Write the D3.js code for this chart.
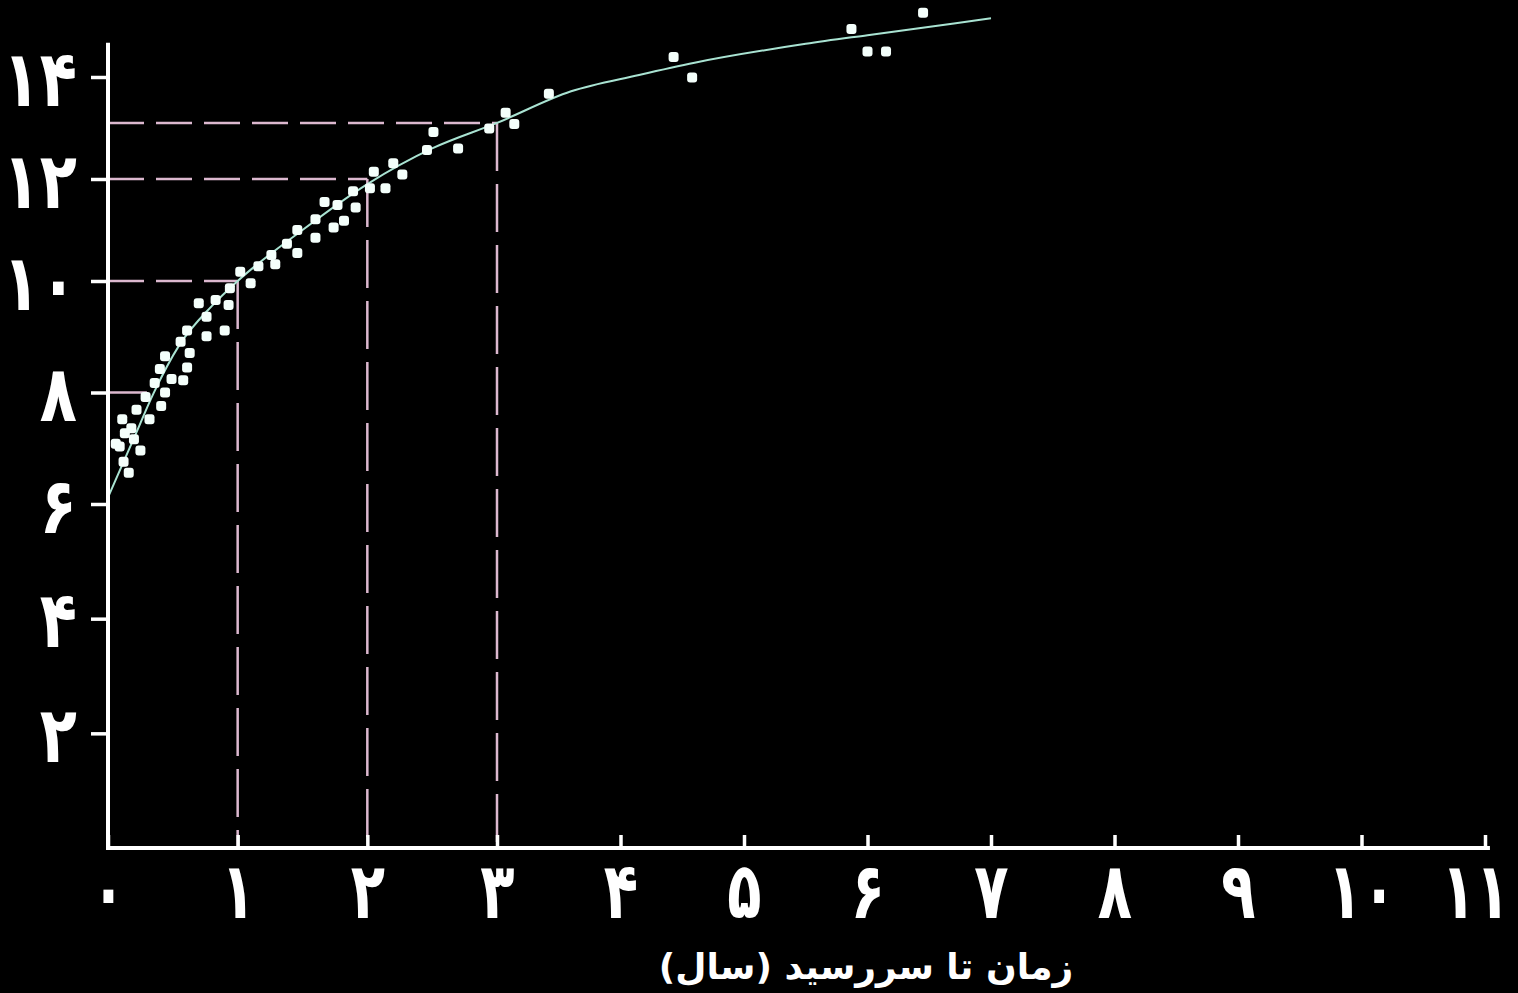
<!DOCTYPE html>
<html>
<head>
<meta charset="utf-8">
<script src="https://cdn.jsdelivr.net/npm/d3@7"></script>
<style>
  body { margin: 0; background: #000; }
  svg { display: block; }
</style>
</head>
<body>
<svg id="chart"></svg>
<script>
// data
const pointX = [0.94, 1.10, 0.70, 0.83, 0.93, 0.76, 0.61, 0.76, 0.90, 0.56, 0.63, 0.44, 0.61, 0.40, 0.49, 0.58,
  0.36, 0.44, 0.29, 0.41, 0.22, 0.32, 0.11, 0.18, 0.13, 0.20, 0.25, 0.09, 0.12, 0.16, 0.06,
  2.46, 2.20, 2.05, 2.27, 2.02, 1.89, 2.14, 1.67, 1.77, 1.91, 1.60, 1.82, 1.74, 1.46, 1.60,
  1.38, 1.26, 1.46, 1.29, 1.16, 1.02,
  2.51, 2.70, 2.94, 3.07, 3.14, 3.42,
  4.43, 4.58, 5.87, 6.00, 6.15, 6.45];
const pointY = [9.87, 9.96, 9.60, 9.66, 9.57, 9.36, 9.11, 9.01, 9.11, 8.91, 8.71, 8.65, 8.45, 8.42, 8.24, 8.22,
  8.17, 8.00, 7.92, 7.76, 7.69, 7.52, 7.52, 7.36, 7.27, 7.16, 6.96, 7.03, 6.76, 6.56, 7.08,
  12.57, 12.31, 12.14, 12.09, 11.82, 11.76, 11.82, 11.55, 11.49, 11.44, 11.21, 11.18, 11.05, 11.00, 10.85,
  10.73, 10.51, 10.55, 10.33, 10.29, 10.18,
  12.92, 12.60, 12.99, 13.30, 13.08, 13.67,
  14.39, 13.99, 14.94, 14.50, 14.50, 15.26];

const curveX = [0, 0.2, 0.35, 0.55, 0.8, 1, 1.5, 2, 2.5, 3, 3.6, 4.15, 4.6, 5.5, 6, 6.7, 7];
const curveY = [6.12, 7.18, 7.98, 8.85, 9.55, 10.0, 11.0, 11.9, 12.6, 13.1, 13.72, 14.04, 14.28, 14.65, 14.82, 15.05, 15.15];

// dashed guides: horizontal from the y axis, then down to the x axis
const guideX = [1, 2, 3];
const guideY = [10, 12, 13.1];

const xTicks = [0, 1, 2, 3, 4, 5, 6, 7, 8, 9, 10, 11];
const yTicks = [2, 4, 6, 8, 10, 12, 14];
const xTitle = "زمان تا سررسید (سال)";

const fa = (n) => String(n).replace(/\d/g, (d) => "۰۱۲۳۴۵۶۷۸۹"[d]);

const width = 1518;
const height = 993;

// the original axes are not evenly spaced, so piecewise scales
const x = d3.scaleLinear().domain([0, 3, 11]).range([108, 497, 1485]);
const y = d3.scaleLinear().domain([0, 6, 10, 14]).range([848, 504, 281, 77]);

const svg = d3.select("#chart").attr("width", width).attr("height", height);
svg.append("rect").attr("width", width).attr("height", height).attr("fill", "#000");

// guides
const guideColor = "#dcb8cf";
const guides = guideX.map((gx, i) => ({ gx, gy: guideY[i] }));

svg.append("g")
  .selectAll("line")
  .data(guides)
  .join("line")
  .attr("x1", x(0)).attr("x2", (d) => x(d.gx))
  .attr("y1", (d) => y(d.gy)).attr("y2", (d) => y(d.gy))
  .attr("stroke", guideColor).attr("stroke-width", 2.5)
  .attr("stroke-dasharray", "36,12");

svg.append("g")
  .selectAll("line")
  .data(guides)
  .join("line")
  .attr("x1", (d) => x(d.gx)).attr("x2", (d) => x(d.gx))
  .attr("y1", (d) => y(d.gy)).attr("y2", y(0))
  .attr("stroke", guideColor).attr("stroke-width", 2.5)
  .attr("stroke-dasharray", "48,13");

// short stub at 8
svg.append("line")
  .attr("x1", x(0)).attr("x2", x(0.3))
  .attr("y1", y(8)).attr("y2", y(8))
  .attr("stroke", guideColor).attr("stroke-width", 2.5);

// fitted curve
const line = d3.line()
  .x((d) => x(d[0]))
  .y((d) => y(d[1]))
  .curve(d3.curveMonotoneX);

svg.append("path")
  .datum(curveX.map((cx, i) => [cx, curveY[i]]))
  .attr("fill", "none")
  .attr("stroke", "#a9e3d2")
  .attr("stroke-width", 2)
  .attr("d", line);

// points
const size = 10;
svg.append("g")
  .selectAll("rect")
  .data(pointX.map((px, i) => [px, pointY[i]]))
  .join("rect")
  .attr("x", (d) => x(d[0]) - size / 2)
  .attr("y", (d) => y(d[1]) - size / 2)
  .attr("width", size)
  .attr("height", size)
  .attr("rx", 3)
  .attr("fill", "#f4fffb");

// axes
const font = "'DejaVu Sans', sans-serif";

const yAxis = svg.append("g")
  .attr("transform", `translate(${x(0)},0)`)
  .call(d3.axisLeft(y).tickValues(yTicks).tickFormat(fa).tickSize(17).tickSizeOuter(0));

const xAxis = svg.append("g")
  .attr("transform", `translate(0,${y(0)})`)
  .call(d3.axisBottom(x).tickValues(xTicks).tickFormat(fa).tickSize(-13).tickPadding(14).tickSizeOuter(0));

[xAxis, yAxis].forEach((g) => {
  g.select(".domain").remove();
  g.selectAll(".tick line").attr("stroke", "#fff").attr("stroke-width", 3.5);
  g.selectAll(".tick text")
    .attr("fill", "#fff")
    .attr("font-family", font)
    .attr("font-weight", "bold")
    .attr("font-size", 78);
});
// reference digits are tall and narrow
yAxis.selectAll(".tick text")
  .attr("x", null)
  .attr("dy", "0.36em")
  .attr("transform", "translate(-31,0) scale(0.78,1)");
xAxis.selectAll(".tick text")
  .attr("dy", "0.72em")
  .attr("transform", (d) => `translate(${d === 11 ? -10 : 0},0) scale(0.72,1)`);

// axis lines
svg.append("line")
  .attr("x1", x(0)).attr("x2", x(0))
  .attr("y1", y(14.67)).attr("y2", y(0) + 2)
  .attr("stroke", "#fff").attr("stroke-width", 4);
svg.append("line")
  .attr("x1", x(0) - 2).attr("x2", x(11.04))
  .attr("y1", y(0)).attr("y2", y(0))
  .attr("stroke", "#fff").attr("stroke-width", 4);

// title
svg.append("text")
  .attr("x", 866)
  .attr("y", 979)
  .attr("text-anchor", "middle")
  .attr("direction", "rtl")
  .attr("fill", "#fff")
  .attr("font-family", font)
  .attr("font-weight", "bold")
  .attr("font-size", 36)
  .text(xTitle);
</script>
</body>
</html>
